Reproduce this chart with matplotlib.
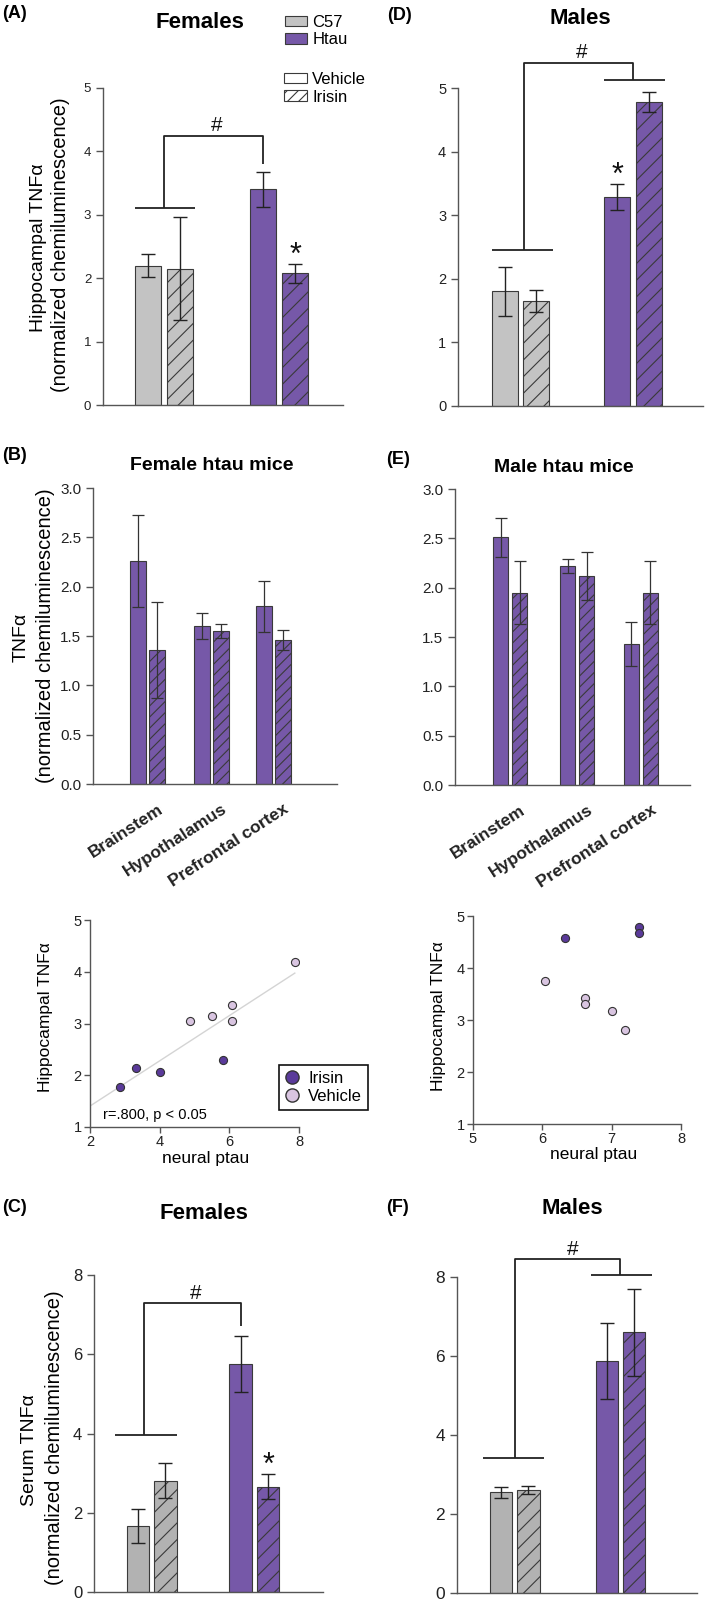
import numpy as np
import matplotlib.pyplot as plt
import matplotlib.transforms as mtransforms
from matplotlib.patches import Patch
from matplotlib.lines import Line2D
from matplotlib.ticker import FormatStrFormatter

plt.rcParams['font.family'] = ['Liberation Sans', 'DejaVu Sans']
plt.rcParams['hatch.linewidth'] = 0.8

# ---- values ----
# order: C57 vehicle, C57 irisin, Htau vehicle, Htau irisin
hippo_f = [2.20, 2.15, 3.40, 2.08]
hippo_f_se = [0.18, 0.81, 0.28, 0.15]
hippo_m = [1.80, 1.65, 3.28, 4.78]
hippo_m_se = [0.39, 0.175, 0.205, 0.15]
serum_f = [1.66, 2.81, 5.75, 2.66]
serum_f_se = [0.43, 0.445, 0.705, 0.31]
serum_m = [2.55, 2.61, 5.88, 6.60]
serum_m_se = [0.135, 0.105, 0.96, 1.10]

regions = ['Brainstem', 'Hypothalamus', 'Prefrontal cortex']
reg_f_veh = [2.26, 1.60, 1.80]
reg_f_veh_se = [0.465, 0.135, 0.26]
reg_f_iri = [1.36, 1.55, 1.46]
reg_f_iri_se = [0.485, 0.07, 0.10]
reg_m_veh = [2.51, 2.22, 1.43]
reg_m_veh_se = [0.20, 0.075, 0.225]
reg_m_iri = [1.95, 2.12, 1.95]
reg_m_iri_se = [0.32, 0.24, 0.32]

ptau_f_iri = [2.86, 3.32, 4.00, 5.82]
tnf_f_iri = [1.78, 2.14, 2.07, 2.29]
ptau_f_veh = [4.86, 5.50, 6.08, 6.08, 7.88]
tnf_f_veh = [3.04, 3.14, 3.36, 3.04, 4.19]
ptau_m_iri = [6.32, 7.40, 7.40]
tnf_m_iri = [4.57, 4.78, 4.68]
ptau_m_veh = [6.04, 6.62, 6.62, 7.00, 7.19]
tnf_m_veh = [3.75, 3.43, 3.30, 3.18, 2.80]

GRAY = '#c3c3c3'
GRAY2 = '#b2b2b2'
PURPLE = '#7658a8'
DARK = '#5a3a9a'
LIGHT = '#d9c5e1'
EDGE = '#3a3a3a'
AX = '#555555'
INK = '#222222'

W, H = 709, 1601
fig = plt.figure(figsize=(W / 100, H / 100), dpi=100)


def add_ax(l, r, t, b):
    ax = fig.add_axes([l / W, 1 - b / H, (r - l) / W, (b - t) / H])
    ax.spines['top'].set_visible(False)
    ax.spines['right'].set_visible(False)
    for s in ['left', 'bottom']:
        ax.spines[s].set_color(AX)
        ax.spines[s].set_linewidth(1.0)
    ax.tick_params(color=AX, length=5, width=1, direction='out', labelcolor=INK)
    return ax


def ftext(x, y, s, **kw):
    fig.text(x / W, 1 - y / H, s, **kw)


def four_bars(ax, vals, errs, gap, width, gray, fs, cap):
    x = np.array([-0.5, 0.5, gap - 0.5, gap + 0.5])
    cols = [gray, gray, PURPLE, PURPLE]
    bars = ax.bar(x, vals, width, color=cols, edgecolor=EDGE, linewidth=0.8)
    bars[1].set_hatch('//')
    bars[3].set_hatch('//')
    ax.errorbar(x, vals, yerr=errs, fmt='none', ecolor=INK, elinewidth=1,
                capsize=cap, capthick=1)
    ax.set_xticks([])
    ax.tick_params(axis='y', labelsize=fs)
    return x


def line(ax, xs, ys):
    ax.plot(xs, ys, color=INK, lw=1.3, clip_on=False, solid_capstyle='butt')


def mark(ax, s, x, y, fs, dy):
    ax.annotate(s, (x, y), xytext=(0, dy), textcoords='offset points',
                ha='center', va='baseline', fontsize=fs, color='#111111',
                annotation_clip=False)


# ---------- (A) hippocampus, females ----------
ax = add_ax(103, 343, 88, 405)
x = four_bars(ax, hippo_f, hippo_f_se, 3.6, 0.81, GRAY, 9.5, 5)
ax.set_xlim(-1.9, 5.6)
ax.set_ylim(0, 5)
ax.set_yticks(range(6))
line(ax, [x[0] - 0.4, x[1] + 0.47], [3.1, 3.1])
line(ax, [0, 0, x[2], x[2]], [3.1, 4.25, 4.25, 3.8])
mark(ax, '#', (0 + x[2]) / 2 + 0.1, 4.25, 15, 3)
mark(ax, '*', x[3], hippo_f[3] + hippo_f_se[3], 22, 0)
ftext(2, 13, '(A)', fontsize=13, fontweight='bold', va='center')
ftext(200, 23, 'Females', fontsize=16, fontweight='bold', ha='center', va='center')
ftext(39, 248, 'Hippocampal TNFα', fontsize=14, rotation=90, ha='center', va='center')
ftext(61, 245, '(normalized chemiluminescence)', fontsize=14.5, rotation=90,
      ha='center', va='center')

leg1 = fig.legend(handles=[Patch(fc=GRAY, ec=EDGE, lw=0.8), Patch(fc=PURPLE, ec=EDGE, lw=0.8)],
                  labels=['C57', 'Htau'], loc='upper left',
                  bbox_to_anchor=(285 / W, 1 - 15 / H), frameon=False, fontsize=12,
                  handlelength=1.3, handleheight=0.6, handletextpad=0.35,
                  labelspacing=0.15, borderpad=0, borderaxespad=0)
leg2 = fig.legend(handles=[Patch(fc='white', ec=EDGE, lw=0.8),
                           Patch(fc='white', ec=EDGE, lw=0.8, hatch='///')],
                  labels=['Vehicle', 'Irisin'], loc='upper left',
                  bbox_to_anchor=(284 / W, 1 - 72 / H), frameon=False, fontsize=12,
                  handlelength=1.4, handleheight=0.6, handletextpad=0.3,
                  labelspacing=0.15, borderpad=0, borderaxespad=0)

# ---------- (D) hippocampus, males ----------
ax = add_ax(458, 703, 88, 405.7)
x = four_bars(ax, hippo_m, hippo_m_se, 3.57, 0.83, GRAY, 10.5, 5)
ax.set_xlim(-1.98, 5.79)
ax.set_ylim(0, 5)
ax.set_yticks(range(6))
line(ax, [x[0] - 0.4, x[1] + 0.53], [2.45, 2.45])
line(ax, [0.1, 0.1, x[2] + 0.5, x[2] + 0.5], [2.45, 5.4, 5.4, 5.12])
line(ax, [x[2] - 0.42, x[3] + 0.52], [5.12, 5.12])
mark(ax, '#', 1.95, 5.4, 15, 3)
mark(ax, '*', x[2], hippo_m[2] + hippo_m_se[2], 22, 0)
ftext(387, 15, '(D)', fontsize=13, fontweight='bold', va='center')
ftext(580, 18, 'Males', fontsize=16, fontweight='bold', ha='center', va='center')


def region_bars(ax, veh, veh_se, iri, iri_se, centers, width):
    g = np.array(centers)
    ax.bar(g - 0.5, veh, width, color=PURPLE, edgecolor=EDGE, linewidth=0.8)
    ax.bar(g + 0.5, iri, width, color=PURPLE, edgecolor=EDGE, linewidth=0.8, hatch='///')
    ax.errorbar(g - 0.5, veh, yerr=veh_se, fmt='none', ecolor='#333333', elinewidth=0.9,
                capsize=4.5, capthick=0.9)
    ax.errorbar(g + 0.5, iri, yerr=iri_se, fmt='none', ecolor='#333333', elinewidth=0.9,
                capsize=4.5, capthick=0.9)
    ax.set_ylim(0, 3)
    ax.set_yticks(np.arange(0, 3.01, 0.5))
    ax.yaxis.set_major_formatter(FormatStrFormatter('%.1f'))
    ax.tick_params(axis='y', labelsize=11)
    ax.set_xticks(g)
    ax.set_xticklabels(regions, rotation=33, ha='right', va='center',
                       rotation_mode='anchor', fontweight='bold', fontsize=12.5)
    ax.tick_params(axis='x', length=0, pad=17)
    off = mtransforms.ScaledTranslation(0.14, 0, fig.dpi_scale_trans)
    for lab in ax.get_xticklabels():
        lab.set_transform(lab.get_transform() + off)


# ---------- (B) female regions ----------
ax = add_ax(93, 337, 488, 784)
region_bars(ax, reg_f_veh, reg_f_veh_se, reg_f_iri, reg_f_iri_se, [0, 3.37, 6.62], 0.84)
ax.set_xlim(-2.87, 9.97)
ftext(2, 455, '(B)', fontsize=13, fontweight='bold', va='center')
ftext(212, 465, 'Female htau mice', fontsize=14, fontweight='bold', ha='center', va='center')
ftext(21, 637, 'TNFα', fontsize=14, rotation=90, ha='center', va='center')
ftext(46, 636, '(normalized chemiluminescence)', fontsize=14.5, rotation=90,
      ha='center', va='center')

# ---------- (E) male regions ----------
ax = add_ax(455, 690, 489, 785)
region_bars(ax, reg_m_veh, reg_m_veh_se, reg_m_iri, reg_m_iri_se, [0, 3.53, 6.89], 0.79)
ax.set_xlim(-2.9, 9.47)
ftext(386, 459, '(E)', fontsize=13, fontweight='bold', va='center')
ftext(564, 467, 'Male htau mice', fontsize=14, fontweight='bold', ha='center', va='center')


def scatter_ax(ax, xi, yi, xv, yv):
    ax.scatter(xi, yi, s=34, c=DARK, edgecolors='#333333', linewidths=0.8, zorder=3)
    ax.scatter(xv, yv, s=34, c=LIGHT, edgecolors='#333333', linewidths=0.8, zorder=3)
    ax.set_ylim(1, 5)
    ax.set_yticks(range(1, 6))
    ax.tick_params(length=4, labelsize=10.5, pad=2)


# ---------- female scatter ----------
ax = add_ax(90, 299, 920, 1127)
allx = np.array(ptau_f_iri + ptau_f_veh)
ally = np.array(tnf_f_iri + tnf_f_veh)
coef = np.polyfit(allx, ally, 1)
xs = np.array([2, allx.max()])
ax.plot(xs, np.polyval(coef, xs), color='#d4d4d4', lw=1, zorder=1)
scatter_ax(ax, ptau_f_iri, tnf_f_iri, ptau_f_veh, tnf_f_veh)
ax.set_xlim(2, 8)
ax.set_xticks([2, 4, 6, 8])
ftext(103, 1115, 'r=.800, p < 0.05', fontsize=10.5, va='center')
ftext(46, 1017, 'Hippocampal TNFα', fontsize=12.5, rotation=90, ha='center', va='center')
ftext(206, 1158, 'neural ptau', fontsize=12.5, ha='center', va='center')
leg = ax.legend(handles=[Line2D([], [], marker='o', ls='none', markersize=9.5, mfc=DARK, mec='#333333'),
                         Line2D([], [], marker='o', ls='none', markersize=9.5, mfc=LIGHT, mec='#333333')],
                labels=['Irisin', 'Vehicle'], loc='upper left',
                bbox_to_anchor=(279 / W, 1 - 1065 / H), bbox_transform=fig.transFigure,
                fontsize=12, fancybox=False, framealpha=1, edgecolor='#111111',
                handlelength=0.8, handletextpad=0.6, borderpad=0.35, labelspacing=0.2,
                borderaxespad=0)
leg.get_frame().set_linewidth(1.2)

# ---------- male scatter ----------
ax = add_ax(473, 681, 916, 1124)
scatter_ax(ax, ptau_m_iri, tnf_m_iri, ptau_m_veh, tnf_m_veh)
ax.set_xlim(5, 8)
ax.set_xticks([5, 6, 7, 8])
ftext(438, 1016, 'Hippocampal TNFα', fontsize=12.5, rotation=90, ha='center', va='center')
ftext(594, 1154, 'neural ptau', fontsize=12.5, ha='center', va='center')

# ---------- (C) serum, females ----------
ax = add_ax(94, 323, 1275, 1592)
x = four_bars(ax, serum_f, serum_f_se, 3.73, 0.82, GRAY2, 12, 5)
ax.set_xlim(-2.1, 6.23)
ax.set_ylim(0, 8)
ax.set_yticks([0, 2, 4, 6, 8])
line(ax, [x[0] - 0.84, x[1] + 0.42], [3.96, 3.96])
line(ax, [-0.28, -0.28, x[2], x[2]], [3.96, 7.29, 7.29, 6.72])
mark(ax, '#', 1.6, 7.29, 15, 3)
mark(ax, '*', x[3], serum_f[3] + serum_f_se[3], 22, 0)
ftext(2, 1208, '(C)', fontsize=13, fontweight='bold', va='center')
ftext(204, 1213, 'Females', fontsize=16, fontweight='bold', ha='center', va='center')
ftext(30, 1450, 'Serum TNFα', fontsize=14, rotation=90, ha='center', va='center')
ftext(54, 1438, '(normalized chemiluminescence)', fontsize=14.5, rotation=90,
      ha='center', va='center')

# ---------- (F) serum, males ----------
ax = add_ax(457, 697, 1277, 1593)
x = four_bars(ax, serum_m, serum_m_se, 3.88, 0.83, GRAY2, 12.5, 5)
ax.set_xlim(-2.12, 6.69)
ax.set_ylim(0, 8)
ax.set_yticks([0, 2, 4, 6, 8])
line(ax, [x[0] - 0.67, x[1] + 0.57], [3.43, 3.43])
line(ax, [0, 0, x[2] + 0.5, x[2] + 0.5], [3.43, 8.46, 8.46, 8.04])
line(ax, [x[2] - 0.58, x[3] + 0.66], [8.04, 8.04])
mark(ax, '#', 2.14, 8.46, 15, 3)
ftext(386, 1207, '(F)', fontsize=13, fontweight='bold', va='center')
ftext(572, 1209, 'Males', fontsize=16, fontweight='bold', ha='center', va='center')

fig.savefig('out.png', dpi=100)
